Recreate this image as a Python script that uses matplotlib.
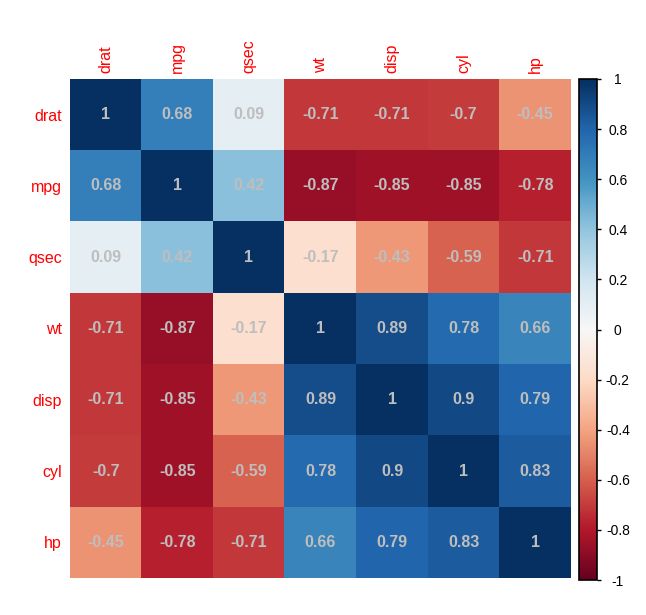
import numpy as np
import matplotlib
matplotlib.use("Agg")
import matplotlib.pyplot as plt
from matplotlib.colors import Normalize

labels = ["drat", "mpg", "qsec", "wt", "disp", "cyl", "hp"]
r_drat = [1, 0.68, 0.09, -0.71, -0.71, -0.70, -0.45]
r_mpg = [0.68, 1, 0.42, -0.87, -0.85, -0.85, -0.78]
r_qsec = [0.09, 0.42, 1, -0.17, -0.43, -0.59, -0.71]
r_wt = [-0.71, -0.87, -0.17, 1, 0.89, 0.78, 0.66]
r_disp = [-0.71, -0.85, -0.43, 0.89, 1, 0.90, 0.79]
r_cyl = [-0.70, -0.85, -0.59, 0.78, 0.90, 1, 0.83]
r_hp = [-0.45, -0.78, -0.71, 0.66, 0.79, 0.83, 1]
cbar_ticks = [1, 0.8, 0.6, 0.4, 0.2, 0, -0.2, -0.4, -0.6, -0.8, -1]

M = np.array([r_drat, r_mpg, r_qsec, r_wt, r_disp, r_cyl, r_hp])
n = len(labels)

plt.rcParams['font.family'] = ['Liberation Sans', 'DejaVu Sans']

fig = plt.figure(figsize=(6.46, 6.15), dpi=100)
ax = fig.add_axes([70/646, 1-578/615, 501/646, 499/615])
cmap = plt.get_cmap("RdBu")
norm = Normalize(-1, 1)
im = ax.imshow(M, cmap=cmap, norm=norm, aspect='auto', interpolation='nearest')

for i in range(n):
    for j in range(n):
        v = M[i, j]
        s = "1" if v == 1 else f"{v:g}"
        ax.text(j, i, s, ha='center', va='center', color='#BEBEBE',
                fontsize=11.5, fontweight='bold')

ax.set_xticks(range(n))
ax.set_yticks(range(n))
ax.set_xticklabels(labels, rotation=90, color='red', fontsize=11.5, va='bottom')
ax.set_yticklabels(labels, color='red', fontsize=11.5)
ax.xaxis.tick_top()
ax.tick_params(axis='both', length=0)
ax.tick_params(axis='x', pad=4)
ax.tick_params(axis='y', pad=6)
for sp in ax.spines.values():
    sp.set_visible(False)

cax = fig.add_axes([579/646, 1-580/615, 18/646, 501/615])
cb = fig.colorbar(im, cax=cax, ticks=cbar_ticks)
cb.set_ticklabels([f"{t:g}" for t in cbar_ticks])
cb.outline.set_linewidth(1.2)
cb.outline.set_edgecolor('black')
cax.tick_params(axis='y', length=3, width=1, labelsize=10, pad=12, direction='out')
for t in cax.get_yticklabels():
    t.set_horizontalalignment('center')

fig.savefig("out.png", dpi=100)
